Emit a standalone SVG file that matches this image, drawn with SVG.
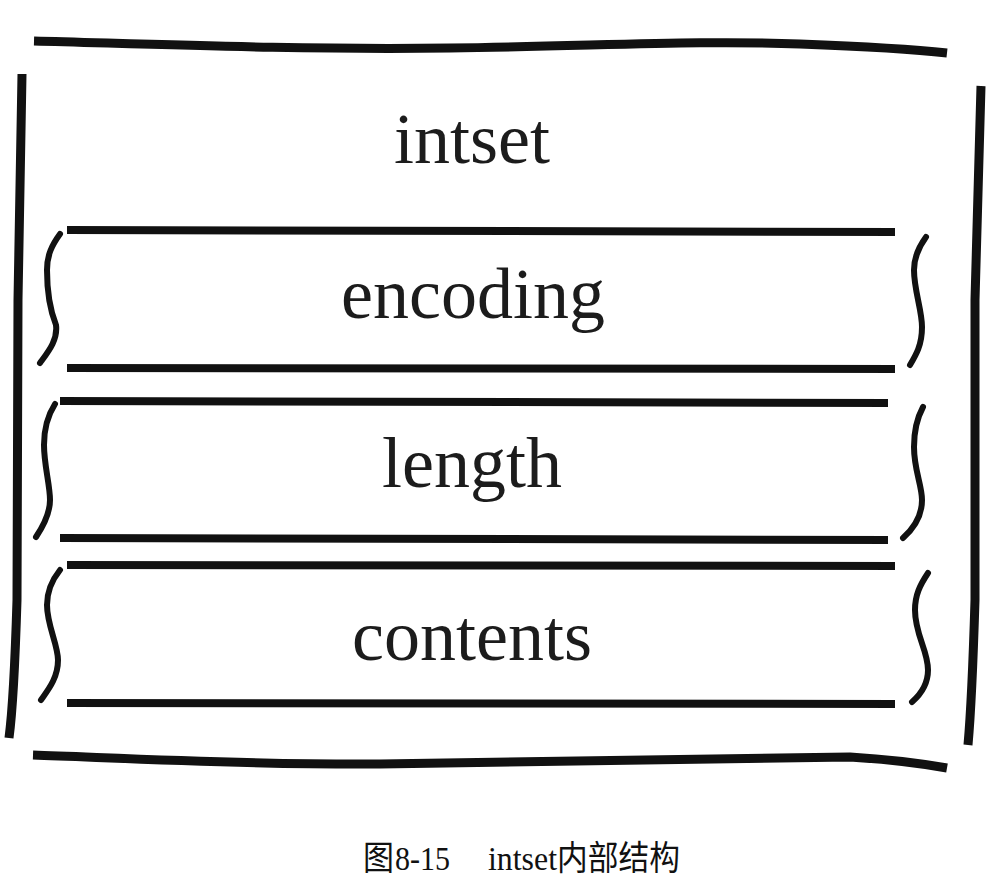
<svg xmlns="http://www.w3.org/2000/svg" width="1002" height="894" viewBox="0 0 1002 894">
<style>
.stroke{fill:none;stroke:#111;stroke-linecap:butt;stroke-linejoin:round}
.frame{stroke-width:9}
.rule{stroke-width:8}
.brace{fill:none;stroke:#111;stroke-width:6;stroke-linecap:round;stroke-linejoin:round}
.label{font-family:"Liberation Serif","DejaVu Serif",serif;font-size:72px;fill:#1c1c1c;text-anchor:middle}
.cap{font-family:"Liberation Serif","Noto Sans CJK SC",serif;font-size:34px;fill:#111}
</style>
<rect width="1002" height="894" fill="#fff"/>
<g id="intset">
  <path class="stroke frame" d="M34,41 C150,44 300,50 450,48 S700,40 800,44 C880,47 920,50 947,53"/>
  <path class="stroke frame" d="M33,755 C120,758 250,765 380,764 L850,757 C900,760 930,765 947,768"/>
  <path class="stroke frame" d="M22,74 L18,300 L17,600 Q14,700 9,738"/>
  <path class="stroke frame" d="M981,86 L975,300 L975,600 Q972,700 968,745"/>
  <text class="label" x="472" y="163">intset</text>
</g>
<g id="encoding">
  <path class="stroke rule" d="M67,230 L895,232"/>
  <path class="stroke rule" d="M67,368 L895,369"/>
  <path class="brace" d="M60,234 C52,245 47,255 47,270 C47,290 50,310 56,325 C58,340 48,352 40,363"/>
  <path class="brace" d="M926,237 C918,248 914,258 914,270 C914,290 922,310 922,327 C922,345 916,355 910,365"/>
  <text class="label" x="473" y="318">encoding</text>
</g>
<g id="length">
  <path class="stroke rule" d="M60,401 L888,403"/>
  <path class="stroke rule" d="M60,538 L888,540"/>
  <path class="brace" d="M55,404 C48,415 44,430 44,445 C44,465 50,485 50,500 C50,515 42,528 36,537"/>
  <path class="brace" d="M923,407 C916,420 914,432 914,447 C914,470 922,485 922,500 C922,518 912,530 903,538"/>
  <text class="label" x="472" y="487">length</text>
</g>
<g id="contents">
  <path class="stroke rule" d="M67,565 L895,566"/>
  <path class="stroke rule" d="M67,703 L895,704"/>
  <path class="brace" d="M60,570 C52,580 47,590 47,605 C47,625 58,645 58,660 C58,678 48,690 41,700"/>
  <path class="brace" d="M928,573 C920,585 915,595 915,610 C915,635 928,650 928,670 C928,685 920,695 912,702"/>
  <text class="label" x="472" y="660">contents</text>
</g>
<g id="connectors"></g>
<g id="caption">
  <text class="cap" x="363" y="870" textLength="31" lengthAdjust="spacingAndGlyphs">图</text>
  <text class="cap" x="395" y="870" textLength="55" lengthAdjust="spacingAndGlyphs">8-15</text>
  <text class="cap" x="488" y="870" textLength="69" lengthAdjust="spacingAndGlyphs">intset</text>
  <text class="cap" x="557" y="870" textLength="123" lengthAdjust="spacingAndGlyphs">内部结构</text>
</g>
</svg>
